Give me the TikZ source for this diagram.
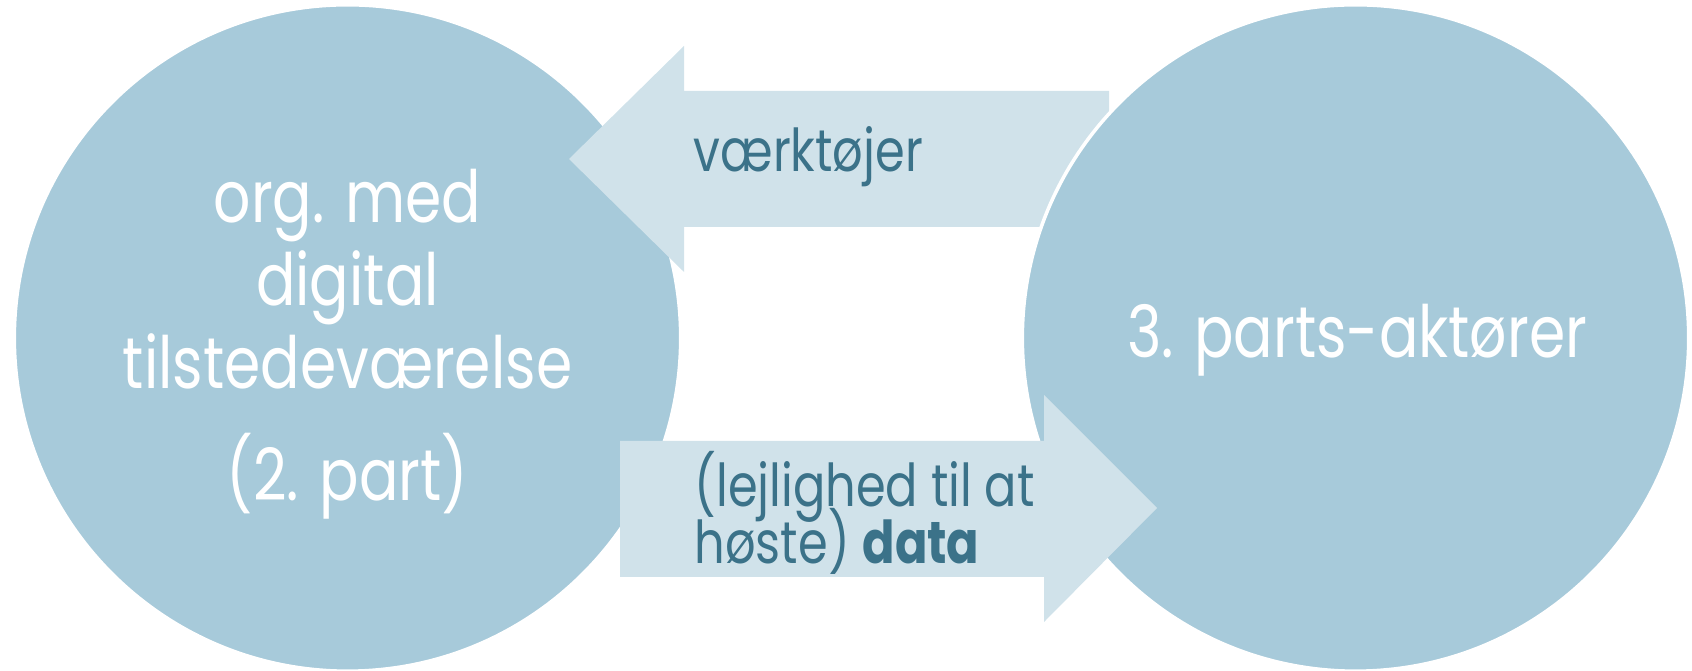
\documentclass[tikz,border=0pt]{standalone}
\usepackage{fontspec}
\setmainfont{Poppins}[FakeStretch=0.81]
\usetikzlibrary{positioning}

\definecolor{kredsblaa}{HTML}{A7CADA}
\definecolor{pilblaa}{HTML}{D0E2EA}
\definecolor{pilskrift}{HTML}{3B7289}

\newcommand{\tætlinjer}{\lineskiplimit=-100pt\relax}

\tikzset{
  part/.style={circle, fill=kredsblaa, draw=white, line width=1pt, minimum size=6.66cm, inner sep=0pt, outer sep=0pt},
  parttekst/.style={text=white, font=\fontsize{20.5}{23.6}\selectfont\tætlinjer, align=center, inner sep=0pt},
  pilform/.style={fill=pilblaa},
  piltekst/.style={text=pilskrift, font=\fontsize{16.8}{18.2}\selectfont\tætlinjer, align=left, inner sep=0pt}
}

\begin{document}
\begin{tikzpicture}[x=0.01cm, y=-0.01cm]
	\useasboundingbox (0,0) rectangle (1692,671);

	% 2. part
	\node[part] (org) at (347.5,338) {};

	% vaerktoejer-pil
	\fill[pilform] (1109,91)--(684,91)--(684,46)--(569,159)--(684,272)--(684,227)--(1109,227)--cycle;

	% 3. part
	\node[part] (aktor) at (1355.5,338) {};

	% data-pil
	\fill[pilform] (620,441)--(1044,441)--(1044,395)--(1157,508)--(1044,622)--(1044,577)--(620,577)--cycle;

	\node[parttekst, anchor=north] (orgtekst) at (347.5,168) {org. med\\digital\\tilstedeværelse\\[8.4pt](2. part)};
	\node[parttekst, anchor=base] (aktortekst) at (1357,358) {3. parts-aktører};
	\node[piltekst, anchor=base west] (vaerktoej) at (693,172) {værktøjer};
	\node[piltekst, anchor=north west] (data) at (694,451) {(lejlighed til at\\[-2.2pt]høste) \textbf{data}};
\end{tikzpicture}
\end{document}
